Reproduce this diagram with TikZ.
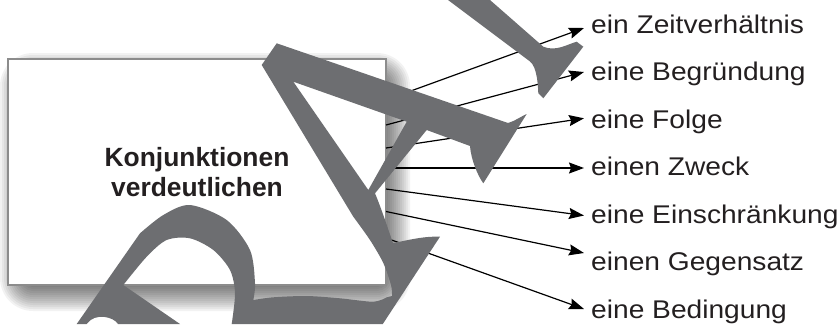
\documentclass[tikz,border=0pt]{standalone}
\usepackage{fontspec}
\setmainfont{Liberation Sans}
\newfontfamily\labfont[FakeStretch=1.1]{Liberation Sans}
\usetikzlibrary{arrows.meta}
\definecolor{wm}{HTML}{6D6E71}
\definecolor{boxline}{HTML}{8C8C8C}
\definecolor{ink}{HTML}{231F20}
\begin{document}
\begin{tikzpicture}[x=1bp,y=-1bp,
  lab/.style={anchor=base west, inner sep=0pt, text=ink,
    font=\labfont\fontsize{25.6bp}{30bp}\selectfont},
  conn/.style={line width=1.2bp, draw=black,
    -{Stealth[length=15bp,width=11bp,inset=2bp]}},
  wmark/.style={fill=wm, even odd rule},
  mainbox/.style={draw=boxline, line width=1.2bp, fill=white,
    minimum width=378bp, minimum height=226bp, inner sep=0pt,
    align=center, text=ink,
    font=\bfseries\fontsize{26.4bp}{30.7bp}\selectfont}]
\useasboundingbox (0,0) rectangle (840,324);
% soft shadow
\foreach \e in {-16,-14,...,16} {
  \pgfmathsetmacro\rr{\e+17}
  \fill[black, opacity=0.05, rounded corners=\rr bp]
    ({16-\e},{69-\e}) rectangle ({394+\e},{295+\e});
}
% box
\node[mainbox] (box) at (197,172) {Konjunktionen\\verdeutlichen};
% labels
\node[lab] (l1) at (591,33)    {ein Zeitverhältnis};
\node[lab] (l2) at (591,80.5)  {eine Begründung};
\node[lab] (l3) at (591,128)   {eine Folge};
\node[lab] (l4) at (591,175.5) {einen Zweck};
\node[lab] (l5) at (591,223)   {eine Einschränkung};
\node[lab] (l6) at (591,270.5) {einen Gegensatz};
\node[lab] (l7) at (591,318)   {eine Bedingung};
% connector ends
\coordinate (s1) at (386,100);   \coordinate (t1) at (584,28);
\coordinate (s2) at (386,125);   \coordinate (t2) at (584,72);
\coordinate (s3) at (386,148);   \coordinate (t3) at (584,118.3);
\coordinate (s4) at (386,168);   \coordinate (t4) at (584,168);
\coordinate (s5) at (386,189);   \coordinate (t5) at (584,215.5);
\coordinate (s6) at (386,211.5); \coordinate (t6) at (584,253);
\coordinate (s7) at (386,238);   \coordinate (t7) at (584,309);
\foreach \i in {1,...,7} { \draw[conn] (s\i) -- (t\i); }
% watermark letters (R, A, F)
\fill[wmark]
 (276.7,43.3) -- (508,123)
 .. controls (515,121) and (520,117) .. (526.7,114)
 -- (483.3,183.3)
 .. controls (478,176) and (471,160) .. (470,146)
 -- (426.7,130) -- (375,193.3)
 .. controls (382,210) and (389,232) .. (393,243)
 .. controls (405,241) and (422,236) .. (440,236.7)
 -- (382.8,324) -- (231.7,324)
 -- plot[smooth] coordinates {(231.7,324) (235,293.3) (230,270) (213.3,250) (190,238.3) (166.7,240) (146.7,256.7) (123.3,285)}
 -- (180,324) -- (118,324)
 .. controls (114,317) and (95,312) .. (86.7,324)
 -- (76.7,324) -- (140,233.3)
 -- plot[smooth] coordinates {(140,233.3) (163.3,215) (190,205) (226.7,220) (250,250) (255,283.3) (253.3,300)}
 -- plot[smooth] coordinates {(253.3,300) (273.3,297.3) (306.7,296) (340,298.3) (373.3,301.7) (386.7,297.3)}
 -- plot[smooth] coordinates {(392,296) (391,285) (383.3,263) (370,240) (353.3,216.7)}
 -- (261.7,65) -- cycle
 (293.3,81.7) -- (406.7,121.7) -- (368.3,190) -- cycle;
\fill[wm] (448,0) -- (530,61.5)
 .. controls (537,67) and (538,85) .. (538.3,93.3)
 -- (543.3,98.3) -- (583.3,46.7) -- (576.7,41.7)
 .. controls (568,44) and (556,52) .. (543.3,46.7)
 -- (490,0) -- cycle;
\end{tikzpicture}
\end{document}
